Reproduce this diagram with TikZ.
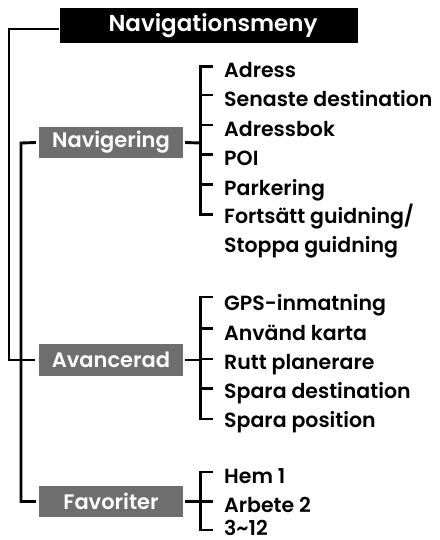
\documentclass[tikz,border=0pt]{standalone}
\usepackage{fontspec}
\setmainfont{Poppins}[BoldFont={Poppins SemiBold}]
\definecolor{catgray}{HTML}{6E6E6E}
\begin{document}
\begin{tikzpicture}[x=1pt,y=-1pt,
  conn/.style={line width=2.9pt},
  titlebox/.style={fill=black,text=white,font=\fontsize{23}{27}\selectfont\bfseries,
    minimum width=298pt,minimum height=35pt,inner sep=0pt},
  catbox/.style={fill=catgray,text=white,font=\fontsize{21}{24}\selectfont\bfseries,
    minimum width=144pt,minimum height=31.5pt,inner sep=0pt},
  item/.style={anchor=base west,inner sep=0pt,font=\fontsize{20.5}{25}\selectfont\bfseries}
]
\useasboundingbox (0,0) rectangle (439,540);

% main boxes
\node[titlebox] (menu) at (209,25.5) {\hspace*{8pt}Navigationsmeny};
\node[catbox] (nav) at (111,142.5) {Navigering};
\node[catbox] (adv) at (111,360) {Avancerad};
\node[catbox] (fav) at (111,501.5) {Favoriter};

% trunk lines
\coordinate (o1) at (9,29);
\coordinate (o2) at (9,360);
\coordinate (i1) at (21,143);
\coordinate (i2) at (21,501.5);
\draw[conn] ([yshift=-3.5pt,xshift=-1pt]menu.west) -- (o1) -- (o2) -- ([xshift=-4pt]adv.west);
\draw[conn] ([xshift=-3pt]nav.west) -- (i1) -- (i2) -- ([xshift=-3pt]fav.west);

% Navigering bracket
\coordinate (nb) at (200.5,143);
\coordinate (nt) at (200.5,66.7);
\coordinate (nbot) at (200.5,214.5);
\draw[conn] ([xshift=2pt]nav.east) -- (nb);
\draw[conn] ([xshift=12.5pt]nt) -- (nt) -- (nbot) -- ([xshift=12.5pt]nbot);
\foreach \y in {95,125,154.5,184.5}
  \draw[conn] (200.5,\y) -- (213,\y);
\node[item] (n1) at (224,78) {Adress};
\node[item] (n2) at (224,107) {Senaste destination};
\node[item] (n3) at (224,136.5) {Adressbok};
\node[item] (n4) at (224,165.5) {POI};
\node[item] (n5) at (224,195) {Parkering};
\node[item] (n6) at (224,223.5) {Fortsätt guidning/};
\node[item] (n7) at (224,252) {Stoppa guidning};

% Avancerad bracket
\coordinate (ab) at (200.5,360);
\coordinate (at) at (200.5,297);
\coordinate (abot) at (200.5,419);
\draw[conn] ([xshift=2pt]adv.east) -- (ab);
\draw[conn] ([xshift=12.5pt]at) -- (at) -- (abot) -- ([xshift=12.5pt]abot);
\foreach \y in {328.5,359,388.5}
  \draw[conn] (200.5,\y) -- (213,\y);
\node[item] (a1) at (224,310.5) {GPS-inmatning};
\node[item] (a2) at (224,340) {Använd karta};
\node[item] (a3) at (224,369) {Rutt planerare};
\node[item] (a4) at (224,398) {Spara destination};
\node[item] (a5) at (224,427) {Spara position};

% Favoriter bracket
\coordinate (fb) at (200.5,501.5);
\coordinate (ft) at (200.5,472);
\coordinate (fbot) at (200.5,530);
\draw[conn] ([xshift=2pt]fav.east) -- (fb);
\draw[conn] ([xshift=12.5pt]ft) -- (ft) -- (fbot) -- ([xshift=12.5pt]fbot);
\draw[conn] (fb) -- ++(12.5,0);
\node[item] (f1) at (224,483.5) {Hem 1};
\node[item] (f2) at (224,512.5) {Arbete 2};
\node[item] (f3) at (224,535.5) {3\char`~12};
\end{tikzpicture}
\end{document}
